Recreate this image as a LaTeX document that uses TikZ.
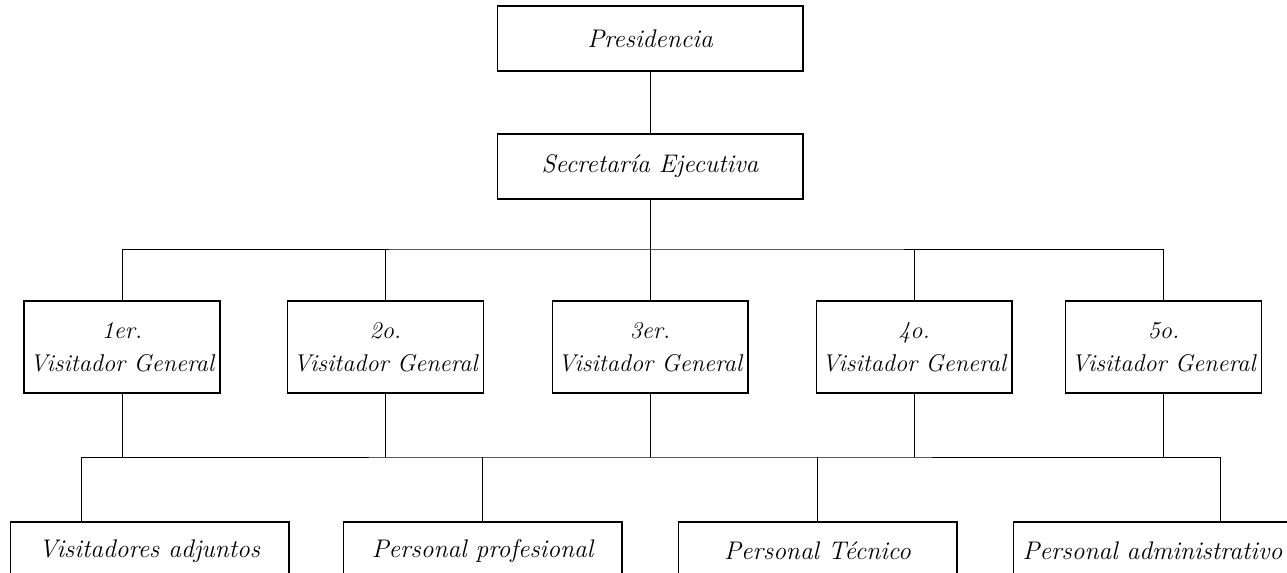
\documentclass[tikz,border=0pt]{standalone}
\usepackage{tikz}

\begin{document}
\begin{tikzpicture}[x=0.02cm,y=-0.02cm,
  box/.style={draw,line width=0.6pt,inner sep=0pt,align=center,
    font=\fontsize{14.5}{19}\selectfont\itshape},
  topbox/.style={box,minimum width=6.12cm,minimum height=1.3cm},
  vgbox/.style={box,minimum width=3.92cm,minimum height=1.84cm,
    font=\fontsize{13.8}{19}\selectfont\itshape},
  staffbox/.style={box,minimum width=5.58cm,minimum height=1.16cm},
  link/.style={line width=0.5pt}]
\clip (0,0) rectangle (1287,573);

\node[topbox] (pres) at (650,38.5) {Presidencia};
\node[topbox] (secr) at (650,166.5) {Secretaría Ejecutiva};

\node[vgbox] (vg1) at (122,347) {1er.\\Visitador General};
\node[vgbox] (vg2) at (385.5,347) {2o.\\Visitador General};
\node[vgbox] (vg3) at (650,347) {3er.\\Visitador General};
\node[vgbox] (vg4) at (914,347) {4o.\\Visitador General};
\node[vgbox] (vg5) at (1163.5,347) {5o.\\Visitador General};

\node[staffbox] (va) at (149.5,551) {Visitadores adjuntos};
\node[staffbox] (pp) at (482.5,551) {Personal profesional};
\node[staffbox] (pt) at (817.5,551) {Personal Técnico};
\node[staffbox] (pa) at (1152.5,551) {Personal administrativo};

\coordinate (bus1) at (650,249);
\coordinate (bus2) at (650,457);
\coordinate (va-in) at (81,522);
\coordinate (pa-in) at (1220,522);

\draw[link] (pres) -- (secr);
\draw[link] (secr) -- (vg3);
\draw[link] (vg1.north) |- (bus1) -| (vg5.north);
\draw[link] (vg2.north) -- (vg2.north |- bus1);
\draw[link] (vg4.north) -- (vg4.north |- bus1);
\foreach \n in {1,...,5}
  \draw[link] (vg\n.south) -- (vg\n.south |- bus2);
\draw[link] (va-in) |- (bus2) -| (pa-in);
\draw[link] (pp.north) -- (pp.north |- bus2);
\draw[link] (pt.north) -- (pt.north |- bus2);
\end{tikzpicture}
\end{document}
